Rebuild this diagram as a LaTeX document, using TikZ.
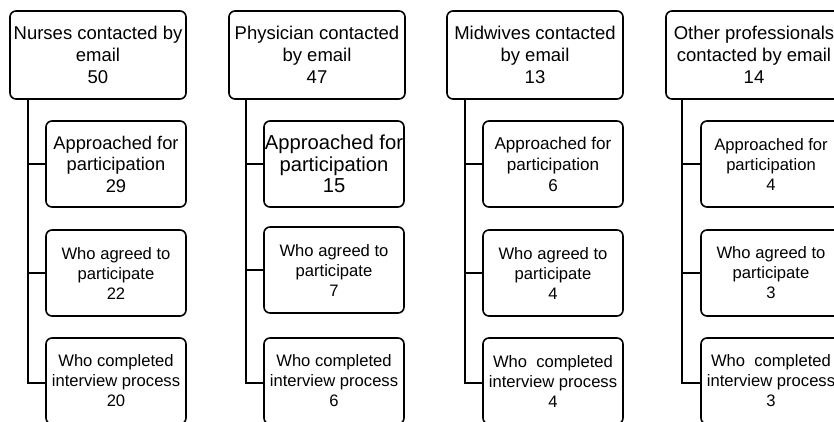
\documentclass[tikz,border=0pt]{standalone}
\usepackage{fontspec}
\setmainfont{Liberation Sans}
\begin{document}
\begin{tikzpicture}[x=1pt,y=-1pt,
  box/.style={draw=black,line width=1.6pt,rounded corners=6pt,fill=white,align=center,inner sep=0pt,
    font=\fontsize{16.6}{20}\selectfont},
  topbox/.style={box,minimum width=176pt,minimum height=88pt,font=\fontsize{18.5}{22}\selectfont},
  subbox/.style={box,minimum width=140pt,minimum height=86pt},
  conn/.style={draw=black,line width=1.6pt}]
\useasboundingbox (0,0) rectangle (834,422);
\clip (0,0) rectangle (834,422);
% column 1
\node[topbox] (t1) at (98,55) {Nurses contacted by\\email\\50};
\node[subbox,font=\fontsize{18.3}{21.5}\selectfont] (a1) at (116,164) {Approached for\\participation\\29};
\node[subbox] (b1) at (116,273) {Who agreed to\\participate\\22};
\node[subbox] (c1) at (116,381) {Who completed\\interview process\\20};
\coordinate (k1) at ([xshift=19pt]t1.south west);
% column 2
\node[topbox] (t2) at (317,55) {Physician contacted\\by email\\47};
\node[subbox,font=\fontsize{20.2}{21.5}\selectfont] (a2) at (334,164) {Approached for\\participation\\15};
\node[subbox] (b2) at (334,270) {Who agreed to\\participate\\7};
\node[subbox] (c2) at (334,381) {Who completed\\interview process\\6};
\coordinate (k2) at ([xshift=18pt]t2.south west);
% column 3
\node[topbox] (t3) at (535,55) {Midwives contacted\\by email\\13};
\node[subbox,font=\fontsize{17.1}{21}\selectfont] (a3) at (553,164) {Approached for\\participation\\6};
\node[subbox] (b3) at (553,273) {Who agreed to\\participate\\4};
\node[subbox] (c3) at (553,381) {Who\ \ completed\\interview process\\4};
\coordinate (k3) at ([xshift=19pt]t3.south west);
% column 4
\node[topbox] (t4) at (754,55) {Other professionals\\contacted by email\\14};
\node[subbox] (a4) at (771,164) {Approached for\\participation\\4};
\node[subbox] (b4) at (771,273) {Who agreed to\\participate\\3};
\node[subbox] (c4) at (771,381) {Who\ \ completed\\interview process\\3};
\coordinate (k4) at ([xshift=17pt]t4.south west);
% connectors
\foreach \i in {1,2,3,4}{
  \draw[conn] (k\i) |- (a\i.west);
  \draw[conn] (k\i) |- (b\i.west);
  \draw[conn] (k\i) |- ([yshift=-2pt]c\i.west);
}
\end{tikzpicture}
\end{document}
